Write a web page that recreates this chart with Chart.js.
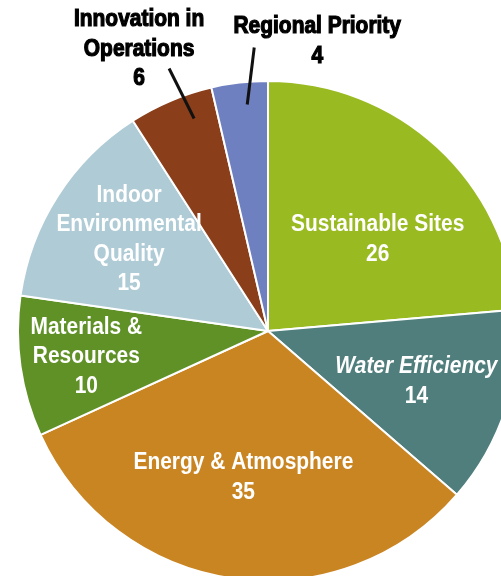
<!DOCTYPE html>
<html>
<head>
<meta charset="utf-8">
<script src="https://cdn.jsdelivr.net/npm/chart.js@4"></script>
<style>
  html, body { margin: 0; padding: 0; background: #fff; overflow: hidden; }
  #wrap { position: absolute; left: 0; top: 0; width: 536px; height: 662px; }
</style>
</head>
<body>
<div id="wrap"><canvas id="leedChart"></canvas></div>
<script>
// LEED credit categories and their available points
var categories = [
  ["Sustainable Sites"],
  ["Water Efficiency"],
  ["Energy & Atmosphere"],
  ["Materials &", "Resources"],
  ["Indoor", "Environmental", "Quality"],
  ["Innovation in", "Operations"],
  ["Regional Priority"]
];
var points = [26, 14, 35, 10, 15, 6, 4];

var sliceColors = ["#99ba21", "#4f7e7d", "#ca8523", "#5f9126", "#afcbd6", "#8a3e1a", "#6f80c0"];

// where each label sits: t = position across the slice, d = fraction of radius
var labelSpots = [
  { t: 0.5, d: 0.56, dx: 15, dy: 12, color: "#fff" },
  { t: 0.5, d: 0.62, dx: 1, dy: 3, color: "#fff", italic: true },
  { t: 0.5, d: 0.58, dx: -4, dy: 3, color: "#fff" },
  { t: 0.5, d: 0.73, dx: -1, dy: 0, color: "#fff" },
  { t: 0.5, d: 0.67, dx: 2, dy: -1, color: "#fff" },
  { t: 0.69, d: 0.9, outside: true, lx: -25, ly: -50, dx: -30, dy: -19, color: "#000" },
  { t: 0.6, d: 0.91, outside: true, lx: 7, ly: -57, dx: 63, dy: -6, color: "#000" }
];

var FONT = '"Liberation Sans Narrow", "Liberation Sans", sans-serif';
var LINE_H = 29.5;
var SQUEEZE = 0.91; // condensed look for the label face

var sliceLabels = {
  id: "sliceLabels",
  afterDatasetsDraw: function (chart) {
    var ctx = chart.ctx;
    var arcs = chart.getDatasetMeta(0).data;
    ctx.save();
    ctx.textAlign = "center";
    ctx.textBaseline = "middle";
    arcs.forEach(function (arc, i) {
      var spot = labelSpots[i];
      var ang = arc.startAngle + (arc.endAngle - arc.startAngle) * spot.t;
      var r = arc.outerRadius * spot.d;
      var px = arc.x + Math.cos(ang) * r;
      var py = arc.y + Math.sin(ang) * r;
      if (spot.outside) {
        var ex = px + spot.lx;
        var ey = py + spot.ly;
        ctx.strokeStyle = "#111";
        ctx.lineWidth = 3;
        ctx.beginPath();
        ctx.moveTo(px, py);
        ctx.lineTo(ex, ey);
        ctx.stroke();
        px = ex;
        py = ey;
      }
      var lines = categories[i].concat([String(points[i])]);
      var cx = px + spot.dx;
      var cy = py + spot.dy - (lines.length - 1) * LINE_H / 2;
      ctx.fillStyle = spot.color;
      ctx.strokeStyle = "#000";
      ctx.lineWidth = 1.2;
      lines.forEach(function (txt, k) {
        // only the category name is slanted, the number stays upright
        var slant = spot.italic && k < lines.length - 1;
        ctx.font = (slant ? "italic " : "") + "bold 23px " + FONT;
        ctx.save();
        ctx.translate(cx, cy + k * LINE_H);
        ctx.scale(SQUEEZE, 1);
        ctx.fillText(txt, 0, 0);
        if (spot.outside) ctx.strokeText(txt, 0, 0);
        ctx.restore();
      });
    });
    ctx.restore();
  }
};

var ctx = document.getElementById("leedChart").getContext("2d");
var leedChart = new Chart(ctx, {
  type: "pie",
  data: {
    labels: categories.map(function (c) { return c.join(" "); }),
    datasets: [
      {
        data: points,
        backgroundColor: sliceColors,
        borderColor: "#ffffff",
        borderWidth: 2
      }
    ]
  },
  options: {
    responsive: true,
    maintainAspectRatio: false,
    animation: false,
    layout: { padding: { top: 80, bottom: 80, left: 0, right: 0 } },
    plugins: {
      legend: { display: false },
      tooltip: { enabled: false }
    }
  },
  plugins: [sliceLabels]
});
</script>
</body>
</html>
